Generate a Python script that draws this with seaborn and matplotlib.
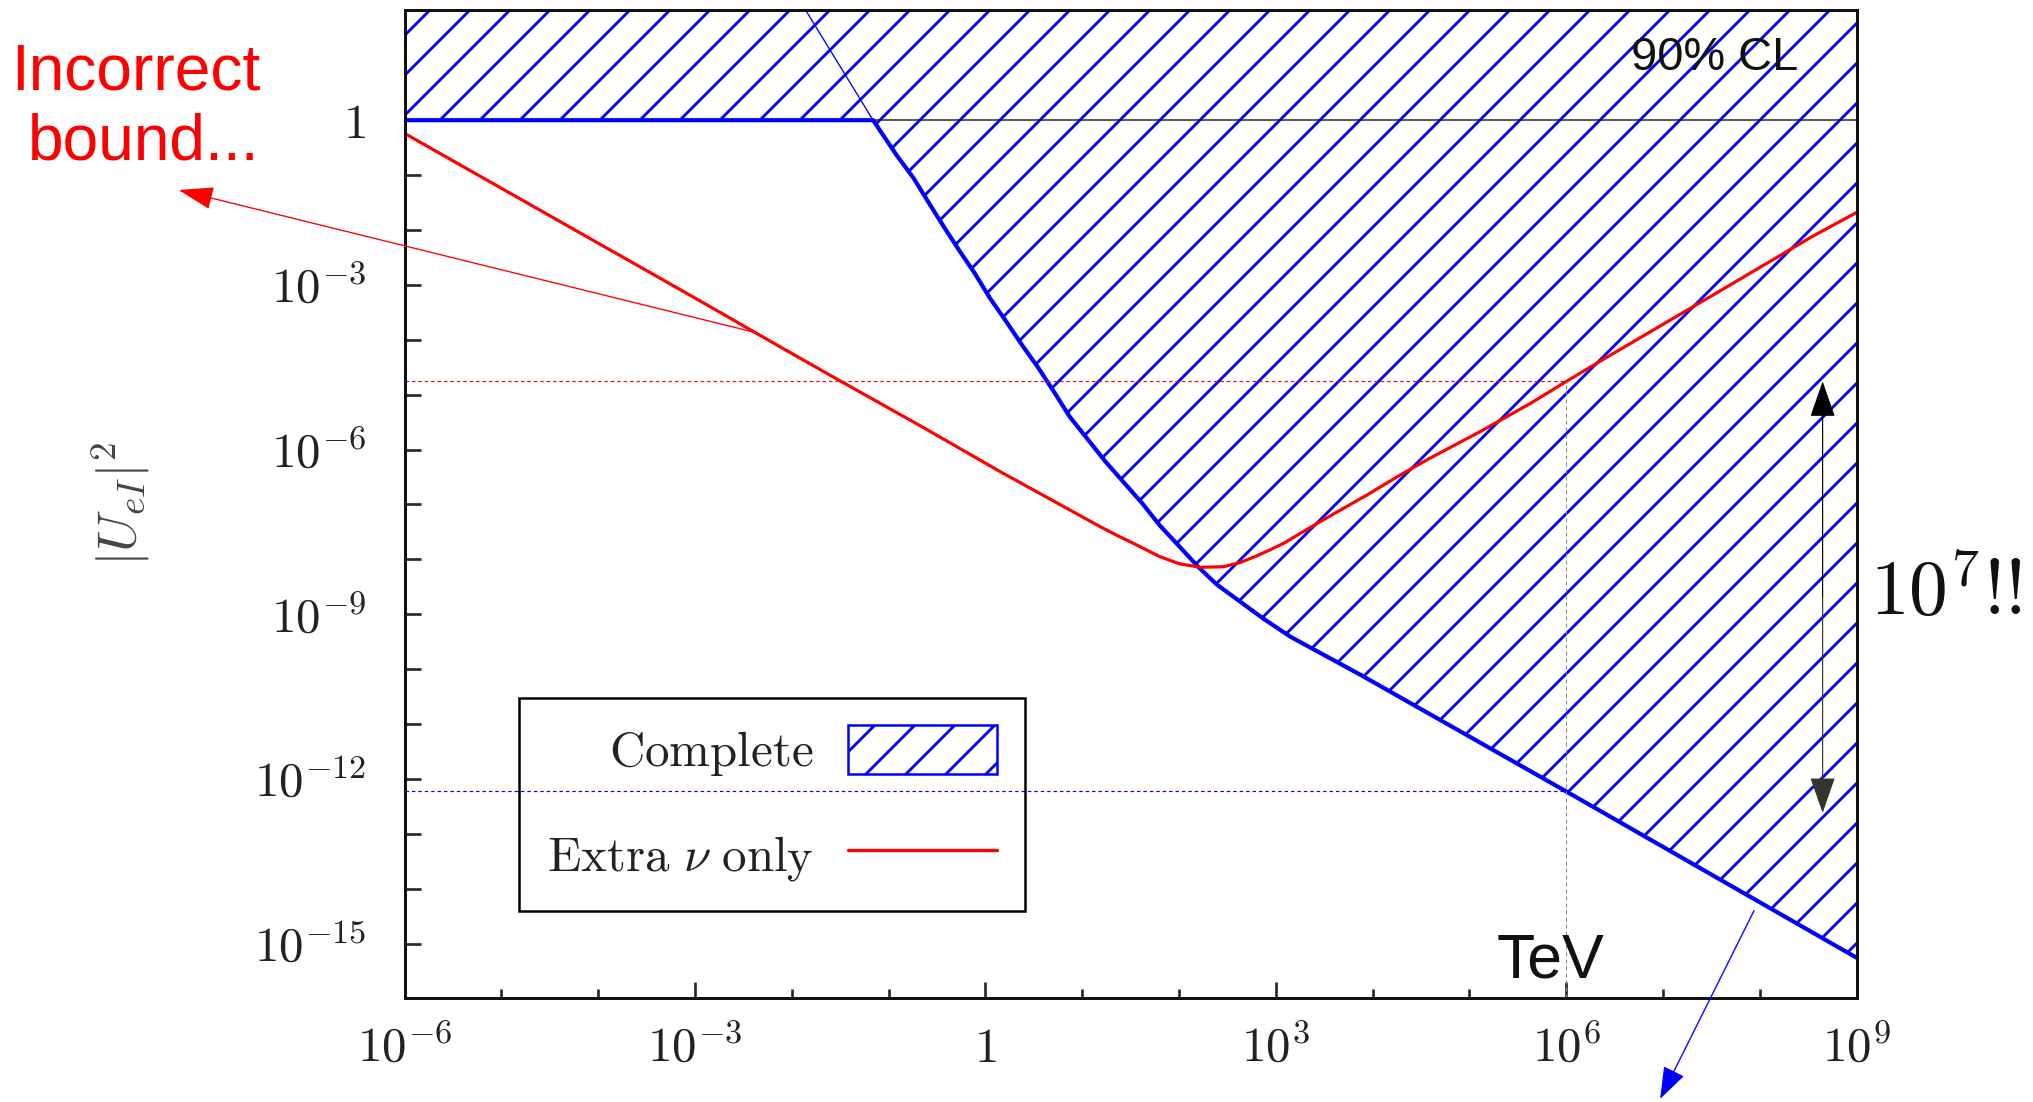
import numpy as np
import pandas as pd
import matplotlib
matplotlib.use("Agg")
import matplotlib.pyplot as plt
from matplotlib import ticker
from matplotlib.patches import Patch
from matplotlib.lines import Line2D
import seaborn as sns

# log10 of the heavy-neutrino mass (GeV) and of the |U_eI|^2 bound, complete analysis
complete_log_mass = [-6.0, -1.16, -0.92, -0.74, -0.59, -0.43, -0.26, -0.11, 0.05, 0.22,
                     0.38, 0.55, 0.72, 0.87, 1.06, 1.24, 1.43, 1.62, 1.80, 1.99, 2.20,
                     2.39, 2.63, 2.87, 3.15, 3.88, 6.0, 9.0]
complete_log_u2 = [0.0, 0.0, -0.63, -1.06, -1.49, -1.94, -2.40, -2.79, -3.25, -3.68,
                   -4.10, -4.52, -4.98, -5.40, -5.82, -6.22, -6.60, -6.98, -7.38, -7.74,
                   -8.14, -8.46, -8.77, -9.08, -9.41, -10.11, -12.23, -15.26]

# same bound keeping only the extra-neutrino contribution
extra_log_mass = [-6.0, -2.95, -2.12, -1.52, -0.64, 0.15, 0.50, 0.84, 1.02, 1.18, 1.36,
                  1.53, 1.80, 2.00, 2.22, 2.46, 2.63, 2.80, 2.95, 3.08, 3.25, 3.59, 3.94,
                  4.28, 4.59, 5.11, 5.63, 6.0, 6.37, 7.55, 8.54, 9.0]
extra_log_u2 = [-0.24, -3.29, -4.13, -4.73, -5.60, -6.40, -6.74, -7.07, -7.245, -7.40,
                -7.565, -7.71, -7.95, -8.08, -8.146, -8.135, -8.06, -7.94, -7.82, -7.71,
                -7.53, -7.18, -6.83, -6.47, -6.16, -5.675, -5.16, -4.76, -4.37, -3.15,
                -2.12, -1.68]

# continuation of the steep edge above |U|^2 = 1
steep_edge_log_mass = [-1.16, -1.855]
steep_edge_log_u2 = [0.0, 2.0]

x_label_exponents = [-6, -3, 0, 3, 6, 9]
y_label_exponents = [-15, -12, -9, -6, -3, 0]
tev_log_mass = 6.0
legend_labels = [r"$\mathrm{Complete}$", r"$\mathrm{Extra}\ \nu\ \mathrm{only}$"]

# annotation arrows, (log10 mass, log10 |U|^2)
incorrect_arrow_from = (-2.349, -3.88)
incorrect_arrow_to = (-8.333, -1.272)
tail_arrow_from = (7.94, -14.40)
tail_arrow_to = (6.97, -17.83)
gap_arrow_log_mass = 8.648
gap_arrow_bottom = -12.62

DPI = 240
W, H = 2033, 1102


def fig_xy(x, y):
    """pixel position (from top-left) -> figure fraction"""
    return x / W, 1 - y / H


def exp_label(e):
    return r"$1$" if e == 0 else r"$10^{%d}$" % e


sns.set_style("ticks")
plt.rcParams.update({
    "font.family": ["Liberation Sans", "DejaVu Sans"],
    "mathtext.fontset": "cm",
    "hatch.linewidth": 0.85,
    "hatch.color": "blue",
    "axes.edgecolor": "#111111",
    "axes.linewidth": 0.9,
})

fig = plt.figure(figsize=(W / DPI, H / DPI), dpi=DPI)
fig.patch.set_facecolor("white")
ax = fig.add_axes([404.5 / W, 1 - 998.4 / H, (1856.7 - 404.5) / W, (998.4 - 10.4) / H])
ax.set_xscale("log")
ax.set_yscale("log")
ax.set_xlim(1e-6, 1e9)
ax.set_ylim(1e-16, 1e2)

complete = pd.DataFrame({"mass": 10.0 ** np.array(complete_log_mass),
                         "u2": 10.0 ** np.array(complete_log_u2)})
extra = pd.DataFrame({"mass": 10.0 ** np.array(extra_log_mass),
                      "u2": 10.0 ** np.array(extra_log_u2)})
steep = pd.DataFrame({"mass": 10.0 ** np.array(steep_edge_log_mass),
                      "u2": 10.0 ** np.array(steep_edge_log_u2)})

# excluded (hatched) region above the complete bound
ax.fill_between(complete["mass"], complete["u2"], 1e2, facecolor="white",
                edgecolor="blue", hatch="//", linewidth=0, zorder=2)

# unitarity line |U|^2 = 1
ax.plot([1e-6, 1e9], [1.0, 1.0], color="#222222", lw=0.45, zorder=3)

sns.lineplot(data=steep, x="mass", y="u2", color="blue", lw=0.4, sort=False,
             estimator=None, legend=False, ax=ax, zorder=3)
sns.lineplot(data=complete, x="mass", y="u2", color="blue", lw=1.25, sort=False,
             estimator=None, legend=False, ax=ax, zorder=4)
sns.lineplot(data=extra, x="mass", y="u2", color="red", lw=0.95, sort=False,
             estimator=None, legend=False, ax=ax, zorder=5)

# reference levels at the TeV-region mass
tev = 10.0 ** tev_log_mass
red_level = 10.0 ** np.interp(tev_log_mass, extra_log_mass, extra_log_u2)
blue_level = 10.0 ** np.interp(tev_log_mass, complete_log_mass, complete_log_u2)
ax.plot([1e-6, tev], [red_level, red_level], color="red", lw=0.35,
        ls=(0, (3, 2.5)), zorder=6)
ax.plot([1e-6, tev], [blue_level, blue_level], color="blue", lw=0.35,
        ls=(0, (3, 2.5)), zorder=6)
ax.plot([tev, tev], [1e-16, red_level], color="#888888", lw=0.3,
        ls=(0, (4, 3)), zorder=6)

# axes ticks
ax.xaxis.set_major_locator(ticker.FixedLocator([10.0 ** e for e in x_label_exponents]))
ax.xaxis.set_major_formatter(ticker.FixedFormatter([exp_label(e) for e in x_label_exponents]))
ax.xaxis.set_minor_locator(ticker.FixedLocator([10.0 ** e for e in range(-5, 9) if e % 3]))
ax.xaxis.set_minor_formatter(ticker.NullFormatter())
y_decades = list(range(-15, 1))
ax.yaxis.set_major_locator(ticker.FixedLocator([10.0 ** e for e in y_decades]))
ax.yaxis.set_major_formatter(ticker.FixedFormatter(
    [exp_label(e) if e in y_label_exponents else "" for e in y_decades]))
ax.yaxis.set_minor_locator(ticker.NullLocator())

ax.tick_params(axis="x", which="major", direction="in", length=4.8, width=0.8,
               pad=19, labelsize=14.7, labelcolor="#222222", top=False, bottom=True)
ax.tick_params(axis="x", which="minor", direction="in", length=2.7, width=0.8,
               top=False, bottom=True)
ax.tick_params(axis="y", which="major", direction="in", length=4.8, width=0.8,
               pad=11.5, labelsize=14.7, labelcolor="#222222", left=True, right=False)
for t in ax.xaxis.get_major_ticks():
    t.label1.set_verticalalignment("baseline")

for side in ["top", "right", "bottom", "left"]:
    ax.spines[side].set_visible(True)
    ax.spines[side].set_linewidth(0.9)
    ax.spines[side].set_color("#111111")
    ax.spines[side].set_zorder(7)

ax.set_xlabel("")
ax.set_ylabel(r"$|U_{eI}|^2$", fontsize=16, color="#444444")
ax.yaxis.set_label_coords(-0.174, 0.5)

# legend
handles = [Patch(facecolor="white", edgecolor="blue", hatch="//", linewidth=0.75),
           Line2D([], [], color="red", lw=1.0)]
leg = ax.legend(handles, legend_labels, loc="upper left", bbox_to_anchor=(0.0786, 0.3045),
                borderaxespad=0, markerfirst=False, frameon=True, fancybox=False,
                edgecolor="black", framealpha=1, fontsize=14.7, handlelength=3.04,
                handleheight=1.15, handletextpad=0.71, borderpad=0.57, labelspacing=1.05)
leg.get_frame().set_linewidth(0.75)
for txt in leg.get_texts():
    txt.set_color("#222222")

# annotations
fig.text(*fig_xy(1715, 57.5), "90% CL", ha="center", va="center", fontsize=14.1,
         color="#111111", zorder=8)
fig.text(*fig_xy(136, 90), "Incorrect", ha="center", va="baseline", fontsize=19.2,
         color="#ff0000")
fig.text(*fig_xy(144, 160), "bound...", ha="center", va="baseline", fontsize=19.2,
         color="#ff0000")
fig.text(*fig_xy(1550, 977), "TeV", ha="center", va="baseline", fontsize=18.8,
         color="#111111")
fig.text(*fig_xy(1870, 615), r"$10^{7}$!!", ha="left", va="baseline", fontsize=23.3,
         family="cmr10", color="#111111")

ax.annotate("", xy=tuple(10.0 ** np.array(incorrect_arrow_to)),
            xytext=tuple(10.0 ** np.array(incorrect_arrow_from)),
            arrowprops=dict(arrowstyle="-|>,head_length=0.46,head_width=0.15",
                            color="red", lw=0.4, mutation_scale=20, shrinkA=0, shrinkB=0),
            annotation_clip=False, zorder=8)
ax.annotate("", xy=tuple(10.0 ** np.array(tail_arrow_to)),
            xytext=tuple(10.0 ** np.array(tail_arrow_from)),
            arrowprops=dict(arrowstyle="-|>,head_length=0.42,head_width=0.15",
                            color="blue", lw=0.4, mutation_scale=20, shrinkA=0, shrinkB=0),
            annotation_clip=False, zorder=8)
gap_x = 10.0 ** gap_arrow_log_mass
gap_mid = 10.0 ** (0.5 * (np.log10(red_level) + gap_arrow_bottom))
ax.annotate("", xy=(gap_x, red_level), xytext=(gap_x, gap_mid),
            arrowprops=dict(arrowstyle="-|>,head_length=0.4,head_width=0.14",
                            color="black", lw=0.35, mutation_scale=24, shrinkA=0, shrinkB=0),
            zorder=8)
ax.annotate("", xy=(gap_x, 10.0 ** gap_arrow_bottom), xytext=(gap_x, gap_mid),
            arrowprops=dict(arrowstyle="-|>,head_length=0.4,head_width=0.14",
                            color="#333333", lw=0.35, mutation_scale=24, shrinkA=0, shrinkB=0),
            zorder=8)

fig.savefig("out.png", dpi=DPI, facecolor="white")
